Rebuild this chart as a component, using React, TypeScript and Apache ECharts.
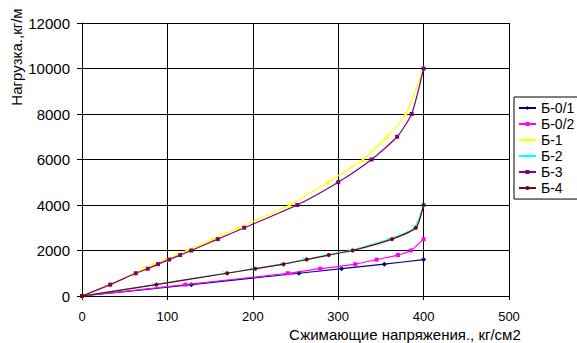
import React, { useEffect, useRef } from "react";
import * as echarts from "echarts";

// Compressive stress (кг/см2) and load (кг/м) for each specimen
const b01Stress = [0, 128, 254, 304, 354, 400];
const b01Load = [0, 500, 1000, 1200, 1400, 1600];

const b02Stress = [0, 121, 241, 279, 320, 345, 370, 385, 400];
const b02Load = [0, 500, 1000, 1200, 1400, 1600, 1800, 2000, 2500];

const b1Stress = [0, 33, 61, 72, 84, 98, 110, 123, 153, 183, 243, 288, 329, 357, 379, 400];
const b1Load = [0, 500, 1000, 1200, 1400, 1600, 1800, 2000, 2500, 3000, 4000, 5000, 6000, 7000, 8000, 10000];

const b2Stress = [0, 85, 168, 200, 234, 261, 286, 314, 360, 389, 400];
const b2Load = [0, 500, 1000, 1200, 1400, 1600, 1800, 2000, 2500, 3000, 4000];

const b3Stress = [0, 33, 63, 77, 89, 102, 115, 128, 159, 190, 252, 300, 339, 369, 386, 400];
const b3Load = [0, 500, 1000, 1200, 1400, 1600, 1800, 2000, 2500, 3000, 4000, 5000, 6000, 7000, 8000, 10000];

const b4Stress = [0, 87, 170, 203, 236, 263, 289, 317, 363, 391, 400];
const b4Load = [0, 500, 1000, 1200, 1400, 1600, 1800, 2000, 2500, 3000, 4000];

const seriesNames = ["Б-0/1", "Б-0/2", "Б-1", "Б-2", "Б-3", "Б-4"];
const seriesColors = ["#000080", "#FF00FF", "#FFFF00", "#00FFFF", "#800080", "#800000"];

const xTitle = "Сжимающие напряжения., кг/см2";
const yTitle = "Нагрузка.,кг/м";

const crossSymbol =
  "path://M0,1L1,0L5,4L9,0L10,1L6,5L10,9L9,10L5,6L1,10L0,9L4,5Z";
const seriesSymbols = ["diamond", "rect", "triangle", crossSymbol, "rect", "circle"];
const seriesSizes = [5, 4, 5, 5, 4, 4];

const zip = (xs: number[], ys: number[]) => xs.map((x, i) => [x, ys[i]]);

const FONT = "'Liberation Sans', Arial, sans-serif";

export default function App() {
  const ref = useRef<HTMLDivElement>(null);

  useEffect(() => {
    if (!ref.current) return;
    const chart = echarts.init(ref.current, undefined, { renderer: "svg" });

    const data = [
      zip(b01Stress, b01Load),
      zip(b02Stress, b02Load),
      zip(b1Stress, b1Load),
      zip(b2Stress, b2Load),
      zip(b3Stress, b3Load),
      zip(b4Stress, b4Load),
    ];

    chart.setOption({
      animation: false,
      backgroundColor: "#ffffff",
      textStyle: { fontFamily: FONT },
      grid: { left: 82, top: 23, width: 427, height: 273, show: false },
      xAxis: {
        type: "value",
        min: 0,
        max: 500,
        interval: 100,
        axisLine: { show: true, lineStyle: { color: "#000", width: 1 } },
        axisTick: { show: true, length: 4, lineStyle: { color: "#000" } },
        axisLabel: { color: "#000", fontSize: 13, fontFamily: FONT, margin: 14 },
        splitLine: { show: true, lineStyle: { color: "#000", width: 1 } },
      },
      yAxis: {
        type: "value",
        min: 0,
        max: 12000,
        interval: 2000,
        axisLine: { show: true, onZero: false, lineStyle: { color: "#000", width: 1 } },
        axisTick: { show: true, length: 5, lineStyle: { color: "#000" } },
        axisLabel: {
          color: "#000",
          fontSize: 15,
          fontFamily: FONT,
          margin: 12,
          formatter: (v: number) => String(v),
        },
        splitLine: { show: true, lineStyle: { color: "#000", width: 1 } },
      },
      legend: {
        orient: "vertical",
        left: 514,
        top: 97,
        padding: [3, 8, 3, 4],
        itemGap: 0.01,
        itemWidth: 17,
        itemHeight: 5,
        backgroundColor: "#fff",
        borderColor: "#000",
        borderWidth: 1,
        borderRadius: 0,
        textStyle: { color: "#000", fontSize: 14, fontFamily: FONT, lineHeight: 16 },
        data: seriesNames,
      },
      graphic: [
        {
          type: "text",
          left: 289,
          top: 327,
          style: { text: xTitle, fill: "#000", font: `15px ${FONT}` },
        },
        {
          type: "text",
          x: 16,
          y: 57,
          rotation: Math.PI / 2,
          style: {
            text: yTitle,
            fill: "#000",
            font: `15px ${FONT}`,
            align: "center",
            verticalAlign: "middle",
          },
        },
      ],
      series: seriesNames.map((name, i) => ({
        name,
        type: "line",
        data: data[i],
        smooth: 0.2,
        symbol: seriesSymbols[i],
        symbolSize: seriesSizes[i],
        showSymbol: true,
        color: seriesColors[i],
        lineStyle: { color: seriesColors[i], width: 1.2 },
        itemStyle: { color: seriesColors[i] },
        z: 2 + i,
      })),
    });

    return () => chart.dispose();
  }, []);

  return (
    <div
      ref={ref}
      style={{ position: "absolute", left: 0, top: 0, width: 577, height: 343 }}
    />
  );
}
